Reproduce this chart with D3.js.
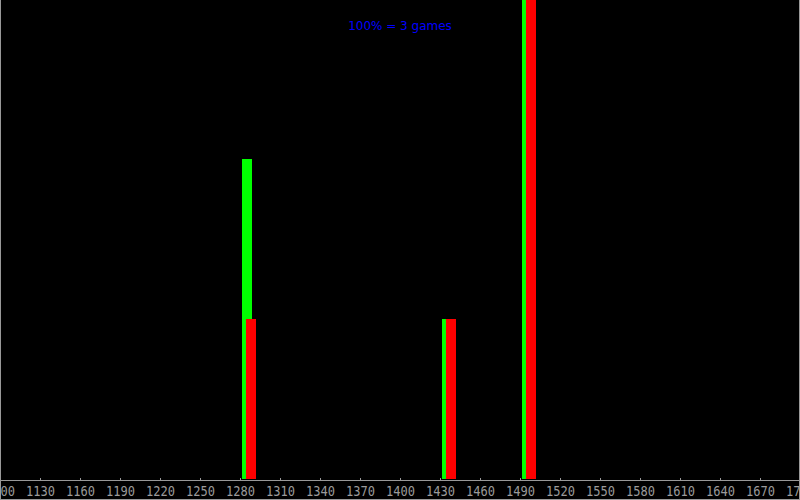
<!DOCTYPE html>
<html><head><meta charset="utf-8">
<script src="https://cdn.jsdelivr.net/npm/d3@7"></script>
<style>html,body{margin:0;padding:0;background:#000;}svg{display:block;}</style>
</head><body>
<script>
const ratings = [1285, 1435, 1495];
const greenGames = [2, 1, 3];
const redGames = [1, 1, 3];
const totalGames = 3;
const tickValues = d3.range(1100, 1701, 30);
const titleText = "100% = 3 games";

const W = 800, H = 500;
const svg = d3.select("body").append("svg").attr("width", W).attr("height", H)
  .style("background", "#000").attr("shape-rendering", "crispEdges");

const x = d3.scaleLinear().domain([1100, 1700]).range([0, 800]);
const y = d3.scaleLinear().domain([0, totalGames]).range([479, -1]);

svg.append("rect").attr("width", W).attr("height", H).attr("fill", "#000");

// green bars
svg.selectAll("rect.g").data(ratings).enter().append("rect")
  .attr("x", d => Math.round(x(d) - 5))
  .attr("y", (d, i) => y(greenGames[i]))
  .attr("width", 10)
  .attr("height", (d, i) => y(0) - y(greenGames[i]))
  .attr("fill", "#00ff00");
// red bars
svg.selectAll("rect.r").data(ratings).enter().append("rect")
  .attr("x", d => Math.round(x(d) - 1))
  .attr("y", (d, i) => y(redGames[i]))
  .attr("width", 10)
  .attr("height", (d, i) => y(0) - y(redGames[i]))
  .attr("fill", "#ff0000");

// axis
const axis = d3.axisTop(x).tickValues(tickValues).tickSize(3).tickFormat(d3.format("d"));
const g = svg.append("g").attr("transform", "translate(0,480.5)").call(axis);
g.select(".domain").attr("stroke", "#999").attr("d", "M0,0H800");
g.selectAll(".tick line").attr("stroke", "#999");
g.selectAll(".tick text").attr("fill", "#9a9a9a").attr("y", 15).attr("dy", 0)
  .attr("text-anchor", "middle")
  .attr("textLength", 29).attr("lengthAdjust", "spacingAndGlyphs")
  .style("font-family", "DejaVu Sans Mono").style("font-size", "13.5px");

// border
svg.append("path").attr("d", "M0.5,0V499.5H799.5V0").attr("fill", "none").attr("stroke", "#999");

svg.append("text").attr("x", 400).attr("y", 30).attr("text-anchor", "middle")
  .attr("fill", "#0000ff").style("font-family", "DejaVu Sans").style("font-size", "12px")
  .text(titleText);
</script>
</body></html>
